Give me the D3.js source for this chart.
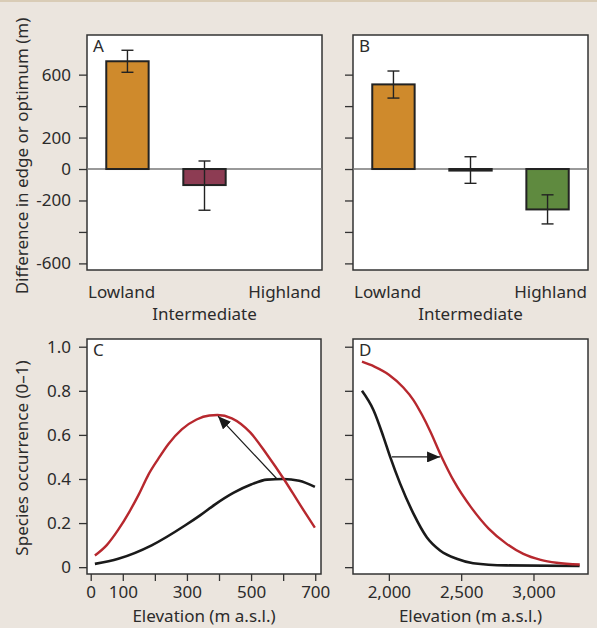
<!DOCTYPE html>
<html>
<head>
<meta charset="utf-8">
<script src="https://cdn.jsdelivr.net/npm/d3@7"></script>
<style>
  html, body { margin: 0; padding: 0; background: #ebe5de; }
  svg { display: block; }
  text { font-family: "Noto Sans", "Open Sans", sans-serif; fill: #2b2b2b; }
</style>
</head>
<body>
<svg id="chart" width="597" height="628"></svg>
<script>
// ---------------- DATA ----------------
const categories = ["Lowland", "Intermediate", "Highland"];

// Panel A (difference, m) – Highland has no bar
const valuesA = [685, -102, null];
const errLowA = [615, -262, null];
const errHighA = [755, 51, null];

// Panel B
const valuesB = [538, -10, -257];
const errLowB = [451, -91, -349];
const errHighB = [623, 78, -164];

const barColors = ["#cf8a2c", "#8d3c53", "#5f8a3f"];

const yTicksAB = [-600, -400, -200, 0, 200, 400, 600];
const yTickLabelsAB = ["-600", "", "-200", "0", "200", "", "600"];

// Panel C curves (elevation m, occurrence)
const cRedX = [13, 50, 86, 120, 150, 180, 210, 243, 284, 330, 370, 395, 440, 498, 550, 602, 654, 699];
const cRedY = [0.053, 0.100, 0.170, 0.250, 0.330, 0.420, 0.490, 0.560, 0.625, 0.670, 0.688, 0.690, 0.675, 0.610, 0.510, 0.400, 0.280, 0.179];
const cBlackX = [13, 86, 190, 295, 341, 388, 446, 500, 550, 600, 650, 699];
const cBlackY = [0.015, 0.038, 0.099, 0.190, 0.235, 0.285, 0.338, 0.375, 0.397, 0.400, 0.392, 0.364];
const cArrow = [[581, 0.40], [397, 0.685]];
const cXTicks = [0, 100, 200, 300, 400, 500, 600, 700];
const cXTickLabels = ["0", "100", "", "300", "", "500", "", "700"];

// Panel D curves
const dRedX = [1814, 1900, 2000, 2100, 2170, 2230, 2285, 2365, 2450, 2570, 2690, 2810, 2930, 3050, 3160, 3320];
const dRedY = [0.932, 0.910, 0.873, 0.815, 0.758, 0.690, 0.618, 0.500, 0.390, 0.270, 0.175, 0.108, 0.060, 0.033, 0.020, 0.012];
const dBlackX = [1814, 1894, 1963, 2009, 2078, 2170, 2262, 2354, 2469, 2583, 2814, 3319];
const dBlackY = [0.800, 0.712, 0.590, 0.500, 0.379, 0.243, 0.136, 0.076, 0.038, 0.018, 0.008, 0.005];
const dArrow = [[2021, 0.50], [2354, 0.50]];
const dXTicks = [2000, 2500, 3000];
const dXTickLabels = ["2,000", "2,500", "3,000"];

const yTicksCD = [0, 0.2, 0.4, 0.6, 0.8, 1.0];
const yTickLabelsCD = ["0", "0.2", "0.4", "0.6", "0.8", "1.0"];

// ---------------- LAYOUT ----------------
const svg = d3.select("#chart");
const FS = 17;
const frameA = {x0: 87, x1: 322, y0: 35, y1: 270};
const frameB = {x0: 353, x1: 588, y0: 35, y1: 270};
const frameC = {x0: 87, x1: 321, y0: 339, y1: 574};
const frameD = {x0: 353, x1: 588, y0: 339, y1: 574};

// top border line
svg.append("rect").attr("x", 0).attr("y", 0).attr("width", 597).attr("height", 2).attr("fill", "#d9ccb6");

function frame(f) {
  svg.append("rect").attr("x", f.x0).attr("y", f.y0)
    .attr("width", f.x1 - f.x0).attr("height", f.y1 - f.y0)
    .attr("fill", "#ffffff").attr("stroke", "#333").attr("stroke-width", 1.5);
}
function panelLabel(f, t, dy) {
  svg.append("text").attr("x", f.x0 + 6).attr("y", f.y0 + dy).attr("font-size", FS).text(t);
}
function styleAxis(g) {
  g.select(".domain").remove();
  g.selectAll(".tick line").attr("stroke", "#333").attr("stroke-width", 1.3);
  g.selectAll(".tick text").attr("font-size", FS).attr("fill", "#2b2b2b")
    .style("font-family", '"Noto Sans", sans-serif');
}

// ---------- Bar panels ----------
function barPanel(f, vals, lo, hi, showY, label) {
  frame(f);
  const x = d3.scaleBand().domain(categories).range([f.x0, f.x1])
    .paddingInner(0.45).paddingOuter(0.25);
  const y = d3.scaleLinear().domain([-642, 852]).range([f.y1, f.y0]);

  // zero line
  svg.append("line").attr("x1", f.x0).attr("x2", f.x1)
    .attr("y1", y(0)).attr("y2", y(0)).attr("stroke", "#777").attr("stroke-width", 1.5);

  const data = categories.map((c, i) => ({c, v: vals[i], lo: lo[i], hi: hi[i], col: barColors[i]}))
    .filter(d => d.v !== null);

  svg.append("g").selectAll("rect").data(data).join("rect")
    .attr("x", d => x(d.c)).attr("width", x.bandwidth())
    .attr("y", d => Math.min(y(d.v), y(0)))
    .attr("height", d => Math.max(Math.abs(y(d.v) - y(0)), 1.5))
    .attr("fill", d => d.col).attr("stroke", "#222").attr("stroke-width", 2);

  const eb = svg.append("g").attr("stroke", "#222").attr("stroke-width", 1.4);
  data.forEach(d => {
    const cx = x(d.c) + x.bandwidth() / 2;
    eb.append("line").attr("x1", cx).attr("x2", cx).attr("y1", y(d.lo)).attr("y2", y(d.hi));
    eb.append("line").attr("x1", cx - 6).attr("x2", cx + 6).attr("y1", y(d.lo)).attr("y2", y(d.lo));
    eb.append("line").attr("x1", cx - 6).attr("x2", cx + 6).attr("y1", y(d.hi)).attr("y2", y(d.hi));
  });

  const ax = d3.axisLeft(y).tickValues(yTicksAB).tickSize(8).tickPadding(8)
    .tickFormat((d, i) => showY ? yTickLabelsAB[i] : "");
  svg.append("g").attr("transform", `translate(${f.x0},0)`).call(ax).call(styleAxis);

  // category labels
  const cx = c => x(c) + x.bandwidth() / 2;
  svg.append("text").attr("x", f.x0 + 1).attr("y", f.y1 + 28).attr("font-size", FS).text(categories[0]);
  svg.append("text").attr("x", f.x1 - 1).attr("y", f.y1 + 28).attr("font-size", FS)
    .attr("text-anchor", "end").text(categories[2]);
  svg.append("text").attr("x", cx(categories[1])).attr("y", f.y1 + 50).attr("font-size", FS)
    .attr("text-anchor", "middle").text(categories[1]);

  panelLabel(f, label, 17);
}

barPanel(frameA, valuesA, errLowA, errHighA, true, "A");
barPanel(frameB, valuesB, errLowB, errHighB, false, "B");

// ---------- Curve panels ----------
svg.append("defs").append("marker").attr("id", "ah")
  .attr("viewBox", "0 0 10 10").attr("refX", 10).attr("refY", 5)
  .attr("markerWidth", 13).attr("markerHeight", 11).attr("markerUnits", "userSpaceOnUse")
  .attr("orient", "auto").attr("preserveAspectRatio", "none")
  .append("path").attr("d", "M0,0 L10,5 L0,10 Z").attr("fill", "#1a1a1a");

function curvePanel(f, xDomain, xTicks, xTickLabels, redX, redY, blackX, blackY, arrow, showY, label) {
  frame(f);
  const x = d3.scaleLinear().domain(xDomain).range([f.x0, f.x1]);
  const y = d3.scaleLinear().domain([-0.031, 1.035]).range([f.y1, f.y0]);
  const line = d3.line().x(d => x(d[0])).y(d => y(d[1])).curve(d3.curveMonotoneX);

  svg.append("path").datum(blackX.map((v, i) => [v, blackY[i]]))
    .attr("d", line).attr("fill", "none").attr("stroke", "#1a1a1a").attr("stroke-width", 2.6);
  svg.append("path").datum(redX.map((v, i) => [v, redY[i]]))
    .attr("d", line).attr("fill", "none").attr("stroke", "#b7282e").attr("stroke-width", 2.4);

  svg.append("line")
    .attr("x1", x(arrow[0][0])).attr("y1", y(arrow[0][1]))
    .attr("x2", x(arrow[1][0])).attr("y2", y(arrow[1][1]))
    .attr("stroke", "#1a1a1a").attr("stroke-width", 1.2).attr("marker-end", "url(#ah)");

  const ay = d3.axisLeft(y).tickValues(yTicksCD).tickSize(8).tickPadding(8)
    .tickFormat((d, i) => showY ? yTickLabelsCD[i] : "");
  svg.append("g").attr("transform", `translate(${f.x0},0)`).call(ay).call(styleAxis);

  const axb = d3.axisBottom(x).tickValues(xTicks).tickSize(7).tickPadding(5)
    .tickFormat((d, i) => xTickLabels[i]);
  svg.append("g").attr("transform", `translate(0,${f.y1})`).call(axb).call(styleAxis);

  svg.append("text").attr("x", (f.x0 + f.x1) / 2)
    .attr("y", f.y1 + 48).attr("font-size", FS).attr("text-anchor", "middle").text("Elevation (m a.s.l.)");

  panelLabel(f, label, 17);
}

curvePanel(frameC, [-11.6, 718], cXTicks, cXTickLabels, cRedX, cRedY, cBlackX, cBlackY, cArrow, true, "C");
curvePanel(frameD, [1752, 3377], dXTicks, dXTickLabels, dRedX, dRedY, dBlackX, dBlackY, dArrow, false, "D");

// y-axis titles
svg.append("text").attr("transform", "translate(28,156) rotate(-90)")
  .attr("text-anchor", "middle").attr("font-size", FS).text("Difference in edge or optimum (m)");
svg.append("text").attr("transform", "translate(28,458) rotate(-90)")
  .attr("text-anchor", "middle").attr("font-size", FS).text("Species occurrence (0–1)");
</script>
</body>
</html>
